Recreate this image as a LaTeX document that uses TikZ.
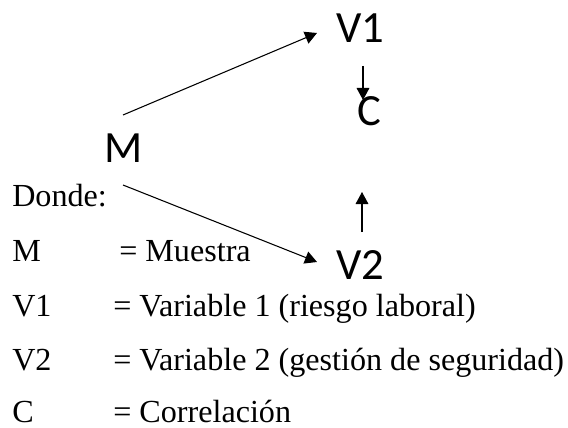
\documentclass[tikz,border=0pt]{standalone}
\usepackage{fontspec}
\setmainfont{Liberation Serif}
\newfontfamily\diagfont{Carlito}
\usetikzlibrary{arrows.meta}
\begin{document}
\begin{tikzpicture}[x=0.75pt,y=-0.75pt,
  var/.style={inner sep=0pt,anchor=base west,font=\diagfont\fontsize{33.5}{40}\selectfont},
  leg/.style={inner sep=0pt,anchor=base west,font=\fontsize{24.1}{28}\selectfont},
  conn/.style={line width=0.8pt,-{Triangle[length=9pt,width=9.5pt]}}]
\useasboundingbox (0,0) rectangle (568,428);
% diagram letters
\node[var] (V1) at (336,43) {V1};
\node[var] (C) at (357,126) {C};
\node[var] (M) at (104,162) {M};
\node[var] (V2) at (336,279) {V2};
% connector ends
\coordinate (mUp) at (123,115);
\coordinate (v1In) at (317,33);
\coordinate (mDown) at (123,185);
\coordinate (v2In) at (317,262);
\coordinate (v1Out) at (363,66);
\coordinate (cTop) at (363,100);
\coordinate (v2Out) at (362,232);
\coordinate (cBot) at (362,192);
\draw[conn] (mUp) -- (v1In);
\draw[conn] (mDown) -- (v2In);
\draw[conn] (v1Out) -- (cTop);
\draw[conn] (v2Out) -- (cBot);
% legend
\node[leg] (donde) at (12,206) {Donde:};
\node[leg] (lM) at (12,261) {M};
\node[leg] (eM) at (119,261) {= Muestra};
\node[leg] (lV1) at (12,316) {V1};
\node[leg] (eV1) at (113,316) {= Variable 1 (riesgo laboral)};
\node[leg] (lV2) at (12,370) {V2};
\node[leg] (eV2) at (113,370) {= Variable 2 (gestión de seguridad)};
\node[leg] (lC) at (12,422) {C};
\node[leg] (eC) at (113,422) {= Correlación};
\end{tikzpicture}
\end{document}
